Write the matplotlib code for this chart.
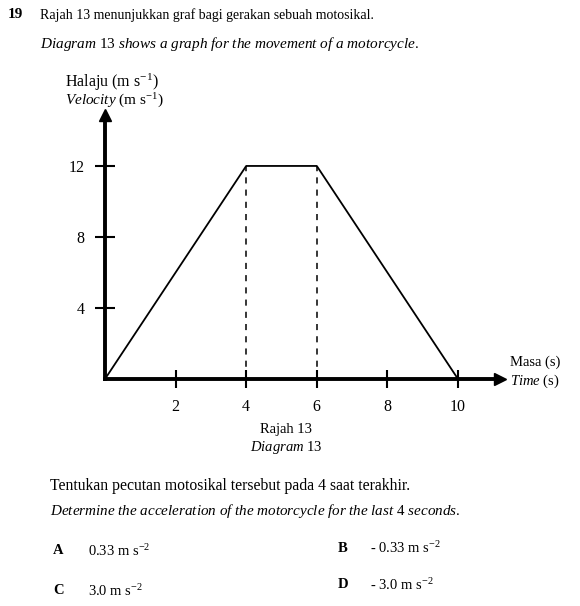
import matplotlib.pyplot as plt

plt.rcParams['font.family'] = ['Liberation Serif', 'DejaVu Serif']
plt.rcParams['mathtext.fontset'] = 'custom'
plt.rcParams['mathtext.rm'] = 'Liberation Serif'
plt.rcParams['mathtext.it'] = 'Liberation Serif:italic'
plt.rcParams['mathtext.bf'] = 'Liberation Serif:bold'

# data of the graph
time_s = [0, 4, 6, 10]
velocity = [0, 12, 12, 0]
dashed_at = [4, 6]
x_ticks = [2, 4, 6, 8, 10]
y_ticks = [4, 8, 12]

W, H = 580, 606
fig = plt.figure(figsize=(W / 100, H / 100), dpi=100)


def px(x, y):
    return x / W, 1 - y / H


# axes: origin at pixel (105, 379), arrow tips at x=500 / y=115
ax = fig.add_axes([105 / W, (H - 379) / H, (500 - 105) / W, (379 - 115) / H])
ax.set_xlim(0, 11.19)
ax.set_ylim(0, 14.87)
ax.patch.set_alpha(0)
for s in ['top', 'right']:
    ax.spines[s].set_visible(False)
for s in ['left', 'bottom']:
    ax.spines[s].set_linewidth(2.8)
ax.plot(1, 0, '>k', ms=9, transform=ax.get_yaxis_transform(), clip_on=False)
ax.plot(0, 1, '^k', ms=9, transform=ax.get_xaxis_transform(), clip_on=False)

ax.set_xticks(x_ticks)
ax.set_yticks(y_ticks)
ax.tick_params(axis='x', direction='inout', length=13, width=1.5, pad=8, labelsize=11.5)
ax.tick_params(axis='y', direction='inout', length=15, width=1.5, pad=7, labelsize=11.5)

ax.plot(time_s, velocity, color='black', lw=1.3, clip_on=False)
for t in dashed_at:
    ax.plot([t, t], [0, velocity[time_s.index(t)]], color='black', lw=1.1,
            linestyle=(0, (4, 4)))

fig.text(*px(8, 15), '19', fontsize=11, fontweight='bold', va='center')
fig.text(*px(40, 15), 'Rajah 13 menunjukkan graf bagi gerakan sebuah motosikal.',
         fontsize=10, va='center')
fig.text(*px(40, 44), r'$\mathit{Diagram}$ 13 $\mathit{shows\ a\ graph\ for\ the\ movement\ of\ a\ motorcycle.}$',
         fontsize=11, va='center')

fig.text(*px(65, 82), r'Halaju (m s$^{-1}$)', fontsize=11.5, va='center')
fig.text(*px(65, 101), r'$\mathit{Velocity}$ (m s$^{-1}$)', fontsize=11, va='center')
fig.text(*px(510, 362), 'Masa (s)', fontsize=10.5, va='center')
fig.text(*px(510, 381), r'$\mathit{Time}$ (s)', fontsize=10.5, va='center')

fig.text(*px(286, 429), 'Rajah 13', fontsize=10.5, va='center', ha='center')
fig.text(*px(286, 448), r'$\mathit{Diagram}$ 13', fontsize=10.5, va='center', ha='center')

fig.text(*px(50, 486), 'Tentukan pecutan motosikal tersebut pada 4 saat terakhir.',
         fontsize=11.3, va='center')
fig.text(*px(50, 511), r'$\mathit{Determine\ the\ acceleration\ of\ the\ motorcycle\ for\ the\ last}$ 4 $\mathit{seconds.}$',
         fontsize=10.9, va='center')

options = [('A', '0.33', 53, 88, 551), ('B', '- 0.33', 338, 370, 548),
           ('C', '3.0', 53, 88, 591), ('D', '- 3.0', 338, 370, 585)]
for letter, val, xl, xv, y in options:
    fig.text(*px(xl, y), letter, fontsize=10.5, fontweight='bold', va='center')
    fig.text(*px(xv, y), val + r' m s$^{-2}$', fontsize=10.5, va='center')

fig.savefig('out.png', dpi=100)
